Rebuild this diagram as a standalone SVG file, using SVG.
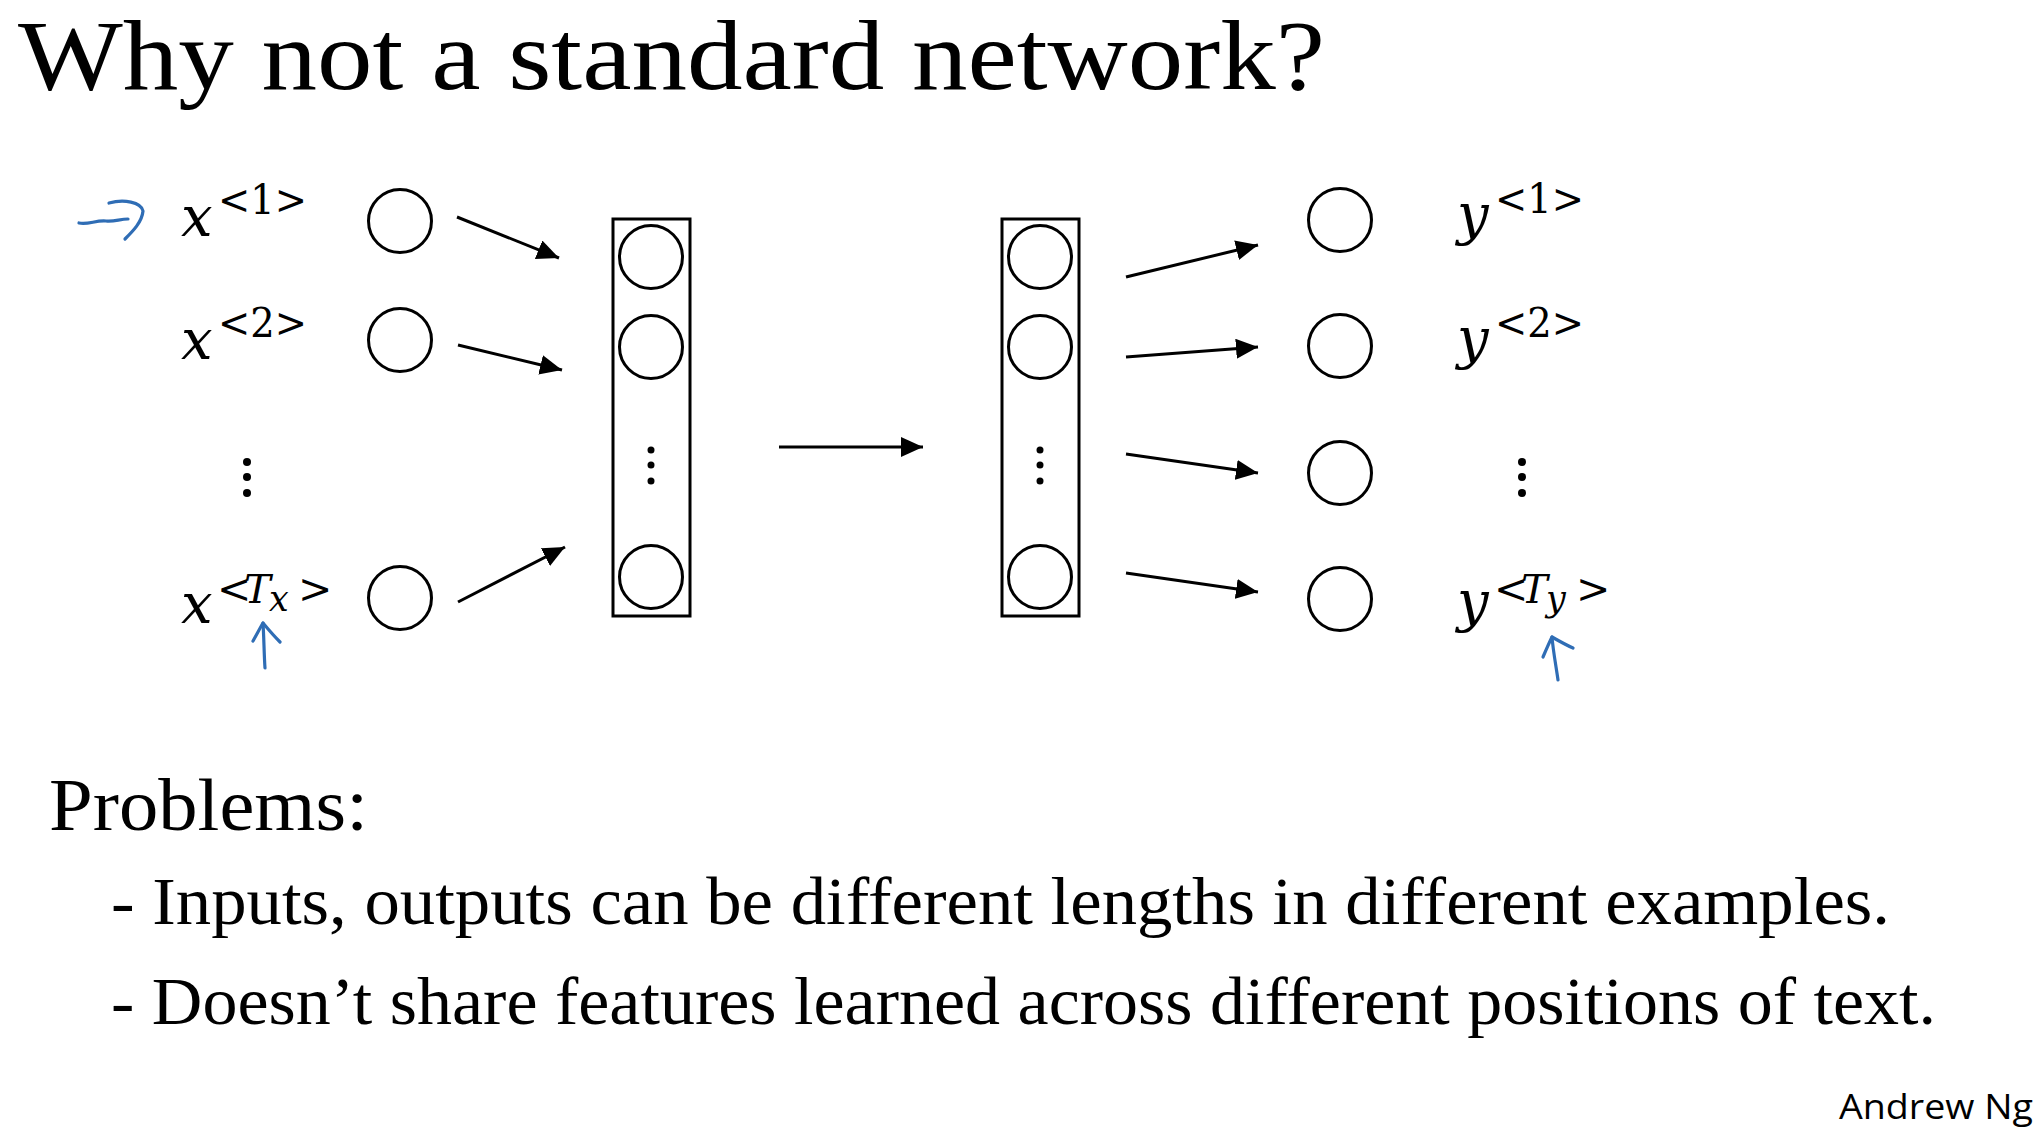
<svg xmlns="http://www.w3.org/2000/svg" width="2041" height="1132" viewBox="0 0 2041 1132">
<style>
.title{font-family:"Liberation Serif",serif;font-size:100px;fill:#000}
.body{font-family:"Liberation Serif",serif;fill:#000}
.mi{font-family:"DejaVu Serif",serif;font-style:italic;font-size:56px;fill:#000}
.sup{font-family:"DejaVu Serif",serif;font-size:41px;font-style:normal;fill:#000}
.supi{font-family:"DejaVu Serif",serif;font-style:italic;font-size:40px;fill:#000}
.sub{font-family:"DejaVu Serif",serif;font-style:italic;font-size:35px;fill:#000}
.unit{fill:none;stroke:#000;stroke-width:3}
.layer{fill:none;stroke:#000;stroke-width:3}
.edge{stroke:#000;stroke-width:3;fill:none;marker-end:url(#ah)}
.hand{stroke:#2f6db5;stroke-width:3.2;fill:none;stroke-linecap:round;stroke-linejoin:round}
.dot{fill:#000}
.credit{font-family:"Open Sans",sans-serif;font-size:35px;fill:#000}
</style>
<defs>
<marker id="ah" markerUnits="userSpaceOnUse" markerWidth="24" markerHeight="22" refX="22" refY="10" orient="auto">
<path d="M0,0 L22,10 L0,20 z" fill="#000"/>
</marker>
</defs>
<rect width="2041" height="1132" fill="#fff"/>

<text class="title" x="18" y="89" textLength="1307" lengthAdjust="spacingAndGlyphs">Why not a standard network?</text>

<!-- input labels -->
<g id="label-x1"><text class="mi" x="181" y="236">x<tspan class="sup" x="218" y="214" textLength="89" lengthAdjust="spacingAndGlyphs">&lt;1&gt;</tspan></text></g>
<g id="label-x2"><text class="mi" x="181" y="359">x<tspan class="sup" x="218" y="337" textLength="89" lengthAdjust="spacingAndGlyphs">&lt;2&gt;</tspan></text></g>
<g id="label-xdots"><circle class="dot" cx="247" cy="462" r="4"/><circle class="dot" cx="247" cy="477" r="4"/><circle class="dot" cx="247" cy="493" r="4"/></g>
<g id="label-xTx"><text class="mi" x="181" y="623">x<tspan class="sup" x="217" y="603">&lt;</tspan><tspan class="supi" x="244" y="603">T</tspan><tspan class="sub" x="269" y="611">x</tspan><tspan class="sup" x="298" y="603">&gt;</tspan></text></g>

<!-- input units -->
<g id="in1"><circle class="unit" cx="400" cy="221" r="31.5"/></g>
<g id="in2"><circle class="unit" cx="400" cy="340" r="31.5"/></g>
<g id="in3"><circle class="unit" cx="400" cy="598" r="31.5"/></g>

<!-- hidden layer 1 -->
<g id="layer1">
<rect class="layer" x="613" y="219" width="77" height="397"/>
<circle class="unit" cx="651" cy="257" r="31.5"/>
<circle class="unit" cx="651" cy="347" r="31.5"/>
<circle class="dot" cx="651" cy="450" r="3.5"/><circle class="dot" cx="651" cy="465" r="3.5"/><circle class="dot" cx="651" cy="481" r="3.5"/>
<circle class="unit" cx="651" cy="577" r="31.5"/>
</g>

<!-- hidden layer 2 -->
<g id="layer2">
<rect class="layer" x="1002" y="219" width="77" height="397"/>
<circle class="unit" cx="1040" cy="257" r="31.5"/>
<circle class="unit" cx="1040" cy="347" r="31.5"/>
<circle class="dot" cx="1040" cy="450" r="3.5"/><circle class="dot" cx="1040" cy="465" r="3.5"/><circle class="dot" cx="1040" cy="481" r="3.5"/>
<circle class="unit" cx="1040" cy="577" r="31.5"/>
</g>

<!-- output units -->
<g id="out1"><circle class="unit" cx="1340" cy="220" r="31.5"/></g>
<g id="out2"><circle class="unit" cx="1340" cy="346" r="31.5"/></g>
<g id="out3"><circle class="unit" cx="1340" cy="473" r="31.5"/></g>
<g id="out4"><circle class="unit" cx="1340" cy="599" r="31.5"/></g>

<!-- output labels -->
<g id="label-y1"><text class="mi" x="1457" y="234">y<tspan class="sup" x="1495" y="213" textLength="89" lengthAdjust="spacingAndGlyphs">&lt;1&gt;</tspan></text></g>
<g id="label-y2"><text class="mi" x="1457" y="358">y<tspan class="sup" x="1495" y="337" textLength="89" lengthAdjust="spacingAndGlyphs">&lt;2&gt;</tspan></text></g>
<g id="label-ydots"><circle class="dot" cx="1522" cy="462" r="4"/><circle class="dot" cx="1522" cy="477" r="4"/><circle class="dot" cx="1522" cy="493" r="4"/></g>
<g id="label-yTy"><text class="mi" x="1457" y="621">y<tspan class="sup" x="1494" y="603">&lt;</tspan><tspan class="supi" x="1521" y="603">T</tspan><tspan class="sub" x="1546" y="611">y</tspan><tspan class="sup" x="1576" y="603">&gt;</tspan></text></g>

<!-- connectors -->
<g id="connectors">
<line class="edge" x1="457" y1="217" x2="559" y2="258"/>
<line class="edge" x1="458" y1="345" x2="562" y2="370"/>
<line class="edge" x1="458" y1="602" x2="565" y2="547"/>
<line class="edge" x1="779" y1="447" x2="923" y2="447"/>
<line class="edge" x1="1126" y1="277" x2="1258" y2="245"/>
<line class="edge" x1="1126" y1="357" x2="1258" y2="347"/>
<line class="edge" x1="1126" y1="454" x2="1258" y2="473"/>
<line class="edge" x1="1126" y1="573" x2="1258" y2="592"/>
</g>

<!-- hand-drawn annotations -->
<g id="annotations">
<path class="hand" d="M79,223 C88,225 96,220 106,221 C114,222 120,219 128,219"/>
<path class="hand" d="M109,203 C124,199 141,202 143,211 C142,222 133,231 125,239"/>
<path class="hand" d="M265,668 C264,654 264,638 263,623"/>
<path class="hand" d="M253,641 C257,634 260,628 263,623 C268,629 274,636 280,642"/>
<path class="hand" d="M1558,680 C1556,666 1553,650 1552,637"/>
<path class="hand" d="M1543,657 C1546,650 1549,643 1552,637 C1559,641 1566,645 1573,648"/>
</g>

<text class="body" x="49" y="830" font-size="74" textLength="319" lengthAdjust="spacingAndGlyphs">Problems:</text>
<text class="body" x="111" y="924" font-size="68" textLength="1779" lengthAdjust="spacingAndGlyphs">- Inputs, outputs can be different lengths in different examples.</text>
<text class="body" x="111" y="1024" font-size="68" textLength="1825" lengthAdjust="spacingAndGlyphs">- Doesn’t share features learned across different positions of text.</text>

<text class="credit" x="1839" y="1119" textLength="194" lengthAdjust="spacingAndGlyphs">Andrew Ng</text>
</svg>
